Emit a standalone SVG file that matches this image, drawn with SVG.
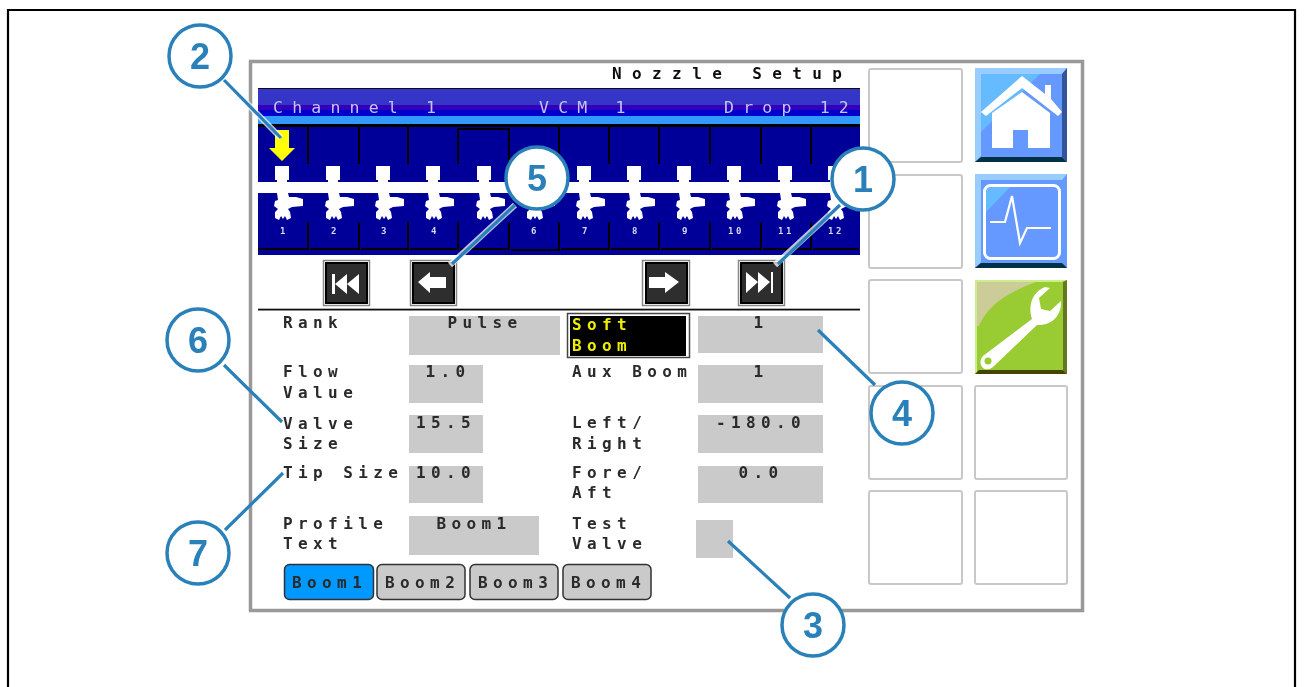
<svg xmlns="http://www.w3.org/2000/svg" xmlns:xlink="http://www.w3.org/1999/xlink" width="1304" height="687" viewBox="0 0 1304 687">
<style>
text{font-family:"DejaVu Sans Mono","Liberation Mono",monospace}
.l{font-size:16px;font-weight:bold;letter-spacing:5.4px;fill:#2a2a2a}
.c{text-anchor:middle}
.h{font-size:16px;font-weight:bold;letter-spacing:10.4px;fill:#111}
.ch{font-size:16.5px;letter-spacing:9.2px;fill:#c4c4f4}
.n{font-size:9px;font-weight:bold;letter-spacing:2.5px;fill:#d8d8f0;text-anchor:middle}
.y{font-size:16px;font-weight:bold;letter-spacing:5.4px;fill:#eeee00}
.f{fill:#cacaca}
.e{fill:#fff;stroke:#c8c8c8;stroke-width:2}
.cell{fill:none;stroke:#000;stroke-width:2}
.nav{fill:#2e2e2e;stroke:#000;stroke-width:2}
.navo{fill:#fff;stroke:#888;stroke-width:1.5}
.tab{fill:#cacaca;stroke:#333;stroke-width:1.5}
.cb{fill:#fff;stroke:#2b80b9;stroke-width:3.5}
.ct{font-family:"Liberation Sans",Arial,sans-serif;font-size:36px;font-weight:bold;fill:#2b80b9;text-anchor:middle}
.lw{stroke:#fff;stroke-width:6;stroke-opacity:.75;fill:none}
.lb{stroke:#2b80b9;stroke-width:3.2;fill:none}
</style>
<defs>
<filter id="b" x="-2%" y="-2%" width="104%" height="104%"><feGaussianBlur stdDeviation="0.55"/></filter>
<filter id="b2" x="-5%" y="-5%" width="110%" height="110%"><feGaussianBlur stdDeviation="0.35"/></filter>
<g id="noz" fill="#fff">
<rect x="-7" y="166" width="14" height="14"/>
<rect x="-5" y="178" width="10" height="8"/>
<path d="M-5 193H6L7 197H14L21 199V206L10 207L6 209L8 212L9 218L5 220L3 216L1 219L-1 216L-3 220L-7 218L-7 212L-4 209L-8 206L-7 201L-4 200Z"/>
</g>
</defs>
<rect width="1304" height="687" fill="#fff"/>
<path d="M8 687V10H1295V687" fill="none" stroke="#000" stroke-width="2.2"/>
<rect x="250.500" y="61.500" width="832" height="549" fill="#fff" stroke="#999" stroke-width="3.500"/>

<g id="screen" filter="url(#b)">
<text class="h" x="612" y="79">Nozzle Setup</text>
<rect x="258" y="88" width="602" height="167" fill="#000099"/>
<rect x="258" y="88" width="602" height="1.500" fill="#111"/>
<rect x="258" y="89" width="602" height="16" fill="#3636c8"/>
<rect x="258" y="105" width="602" height="5" fill="#3300bb"/>
<rect x="258" y="110" width="602" height="6" fill="#0000cc"/>
<rect x="258" y="116" width="602" height="8" fill="#3399ff"/>
<rect x="258" y="124" width="602" height="3" fill="#000"/>
<text class="ch" x="273" y="113">Channel 1</text>
<text class="ch" x="539" y="113">VCM 1</text>
<text class="ch" x="724" y="113">Drop 12</text>
<g id="cells">
<path class="cell" d="M308 127V164M359 127V164M408 127V164M458 129H509V164M458 129V164M559 127V164M609 127V164M659 127V164M710 127V164M761 127V164M811 127V164"/>
<path class="cell" d="M258 249H308V222M310 249H359V222M361 249H408V222M410 249H458V222M460 249H509V222M511 250H559V222M561 249H609V222M611 249H659V222M661 249H710V222M712 249H761V222M763 249H811V222M813 249H859"/>
</g>
<rect x="258" y="182" width="602" height="11" fill="#fff"/>
<use xlink:href="#noz" href="#noz" x="282"/><use xlink:href="#noz" href="#noz" x="333"/><use xlink:href="#noz" href="#noz" x="383"/><use xlink:href="#noz" href="#noz" x="433"/><use xlink:href="#noz" href="#noz" x="484"/><use xlink:href="#noz" href="#noz" x="534"/><use xlink:href="#noz" href="#noz" x="584"/><use xlink:href="#noz" href="#noz" x="634"/><use xlink:href="#noz" href="#noz" x="684"/><use xlink:href="#noz" href="#noz" x="734"/><use xlink:href="#noz" href="#noz" x="785"/><use xlink:href="#noz" href="#noz" x="835"/>
<text class="n" x="284" y="234">1</text><text class="n" x="335" y="234">2</text><text class="n" x="385" y="234">3</text><text class="n" x="435" y="234">4</text><text class="n" x="535" y="234">6</text><text class="n" x="586" y="234">7</text><text class="n" x="636" y="234">8</text><text class="n" x="686" y="234">9</text><text class="n" x="736" y="234">10</text><text class="n" x="786" y="234">11</text><text class="n" x="836" y="234">12</text>
<path d="M275 130H289V148H295L282 161L269 148H275Z" fill="#ffff00"/>

<g id="nav-first"><rect class="navo" x="323.500" y="260.500" width="46" height="45"/><rect class="nav" x="326" y="263" width="41" height="40"/><path d="M332 274H335V294H332ZM335 284L347 274V294ZM347 284L359 274V294Z" fill="#fff"/></g>
<g id="nav-prev"><rect class="navo" x="410.500" y="260.500" width="46" height="45"/><rect class="nav" x="413" y="263" width="41" height="40"/><path d="M418 282L430 272V277H446V288H430V293Z" fill="#fff"/></g>
<g id="nav-next"><rect class="navo" x="642.500" y="260.500" width="47" height="45"/><rect class="nav" x="646" y="263" width="41" height="40"/><path d="M649 277H665V272L679 282L665 293V288H649Z" fill="#fff"/></g>
<g id="nav-last"><rect class="navo" x="738.500" y="260.500" width="46" height="45"/><rect class="nav" x="741" y="263" width="41" height="40"/><path d="M746 272L758 282L746 293ZM758 272L770 282L758 293ZM771 272H773V293H771Z" fill="#fff"/></g>
<rect x="258" y="308.700" width="602" height="1.800" fill="#111"/>

<text class="l" x="283" y="328">Rank</text>
<rect class="f" x="409" y="316" width="151" height="39"/><text class="l c" x="485" y="328">Pulse</text>
<text class="l" x="283" y="377">Flow</text><text class="l" x="283" y="398">Value</text>
<rect class="f" x="409" y="365" width="74" height="38"/><text class="l c" x="448" y="377">1.0</text>
<text class="l" x="283" y="429">Valve</text><text class="l" x="283" y="449">Size</text>
<rect class="f" x="409" y="415" width="74" height="38"/><text class="l c" x="446" y="428">15.5</text>
<text class="l" x="283" y="478">Tip Size</text>
<rect class="f" x="409" y="466" width="74" height="37"/><text class="l c" x="446" y="478">10.0</text>
<text class="l" x="283" y="529">Profile</text><text class="l" x="283" y="549">Text</text>
<rect class="f" x="409" y="516" width="130" height="39"/><text class="l c" x="474" y="529">Boom1</text>

<rect x="567.500" y="313.500" width="122" height="44" fill="#fff" stroke="#444" stroke-width="1.500"/>
<rect x="570" y="316" width="116" height="40" fill="#000"/>
<text class="y" x="572" y="330">Soft</text><text class="y" x="572" y="351">Boom</text>
<rect class="f" x="698" y="316" width="125" height="37"/><text class="l c" x="761" y="328">1</text>
<text class="l" x="572" y="377">Aux Boom</text>
<rect class="f" x="698" y="365" width="125" height="38"/><text class="l c" x="761" y="377">1</text>
<text class="l" x="572" y="428">Left/</text><text class="l" x="572" y="449">Right</text>
<rect class="f" x="698" y="415" width="125" height="38"/><text class="l c" x="761" y="428">-180.0</text>
<text class="l" x="572" y="478">Fore/</text><text class="l" x="572" y="498">Aft</text>
<rect class="f" x="698" y="466" width="125" height="37"/><text class="l c" x="761" y="478">0.0</text>
<text class="l" x="572" y="529">Test</text><text class="l" x="572" y="549">Valve</text>
<rect class="f" x="696" y="520" width="37" height="38"/>

<g id="tab1"><rect class="tab" x="284.500" y="564.500" width="89" height="35" rx="5" style="fill:#0099ff"/><text class="l" x="292" y="588">Boom1</text></g>
<g id="tab2"><rect class="tab" x="377" y="564.500" width="88" height="35" rx="5"/><text class="l" x="385" y="588">Boom2</text></g>
<g id="tab3"><rect class="tab" x="470" y="564.500" width="88" height="35" rx="5"/><text class="l" x="478" y="588">Boom3</text></g>
<g id="tab4"><rect class="tab" x="563" y="564.500" width="88" height="35" rx="5"/><text class="l" x="571" y="588">Boom4</text></g>
</g>

<g id="soft-keys" filter="url(#b2)">
<rect class="e" x="869" y="69" width="93" height="93" rx="2"/>
<rect class="e" x="869" y="175" width="93" height="93" rx="2"/>
<rect class="e" x="869" y="280" width="93" height="93" rx="2"/>
<rect class="e" x="869" y="386" width="93" height="93" rx="2"/>
<rect class="e" x="869" y="491" width="93" height="93" rx="2"/>
<rect class="e" x="975" y="386" width="92" height="93" rx="2"/>
<rect class="e" x="975" y="491" width="92" height="93" rx="2"/>
</g>
<g id="home-key" filter="url(#b)">
<rect x="975" y="68" width="92" height="94" fill="#6699ff"/>
<path d="M975 68H1067L1062 74H981L981 156L975 162Z" fill="#99ccff"/>
<path d="M981 74H1040L981 132Z" fill="#66bbff"/>
<path d="M975 162L981 157H1062L1067 162Z" fill="#003344"/>
<path d="M1062 74L1067 68V162L1062 157Z" fill="#335599"/>
<path d="M1022 76L1045 94V85H1051V99L1062 112L1058 116L1022 88L986 116L981 112Z" fill="#fff"/>
<path d="M1022 92L1050 113V148H1028V130H1013V148H992V113Z" fill="#fff"/>
</g>
<g id="monitor-key" filter="url(#b)">
<rect x="975" y="174" width="92" height="94" fill="#6699ff"/>
<path d="M975 174H1067L1062 180H981V262L975 268Z" fill="#99ccff"/>
<path d="M986 187H1010L986 212Z" fill="#66bbff"/>
<path d="M975 268L981 263H1062L1067 268Z" fill="#003344"/>
<rect x="984.500" y="185.500" width="75" height="73" rx="6" fill="none" stroke="#fff" stroke-width="3"/>
<path d="M990 222H1005L1012 196L1020 243L1027 228H1051" fill="none" stroke="#fff" stroke-width="2.200"/>
</g>
<g id="wrench-key" filter="url(#b)">
<rect x="975" y="280" width="92" height="94" fill="#99cc33"/>
<path d="M977 282H1036C1008 292 987 306 979 326H977Z" fill="#cccc99"/>
<path d="M975 280H1067L1062 282H977V374H975Z" fill="#ccee88"/>
<path d="M975 374L979 370H1063L1067 374Z" fill="#444400"/>
<path d="M1063 282L1067 280V374L1063 370Z" fill="#667722"/>
<path d="M983 356L1032 319C1027 304 1034 291 1045 287L1050 288L1039 298L1041 309L1050 311L1061 301C1062 317 1050 326 1037 325L993 367C985 374 976 364 983 356Z" fill="#fff"/>
<circle cx="988" cy="361" r="3.500" fill="#99cc33"/>
</g>

<g id="connectors" filter="url(#b2)">
<path class="lw" d="M224 80L281 138"/><path class="lb" d="M224 80L281 138"/>
<path class="lw" d="M515 205L450 265"/><path class="lb" d="M515 205L452 264"/>
<path class="lw" d="M840 205L775 265"/><path class="lb" d="M840 205L778 264"/>
<path class="lb" d="M818 330L875 385"/>
<path class="lb" d="M224 365L282 422"/>
<path class="lb" d="M225 530L283 473"/>
<path class="lb" d="M728 541L790 598"/>
</g>
<g id="c1" filter="url(#b2)"><circle class="cb" cx="863" cy="179" r="31"/><text class="ct" x="863" y="192">1</text></g>
<g id="c2" filter="url(#b2)"><circle class="cb" cx="200" cy="56" r="31"/><text class="ct" x="200" y="69">2</text></g>
<g id="c3" filter="url(#b2)"><circle class="cb" cx="813" cy="625" r="31"/><text class="ct" x="813" y="638">3</text></g>
<g id="c4" filter="url(#b2)"><circle class="cb" cx="902" cy="413" r="31"/><text class="ct" x="902" y="426">4</text></g>
<g id="c5" filter="url(#b2)"><circle class="cb" cx="537" cy="178" r="31"/><text class="ct" x="537" y="191">5</text></g>
<g id="c6" filter="url(#b2)"><circle class="cb" cx="198" cy="340" r="31"/><text class="ct" x="198" y="353">6</text></g>
<g id="c7" filter="url(#b2)"><circle class="cb" cx="198" cy="553" r="31"/><text class="ct" x="198" y="566">7</text></g>
</svg>
